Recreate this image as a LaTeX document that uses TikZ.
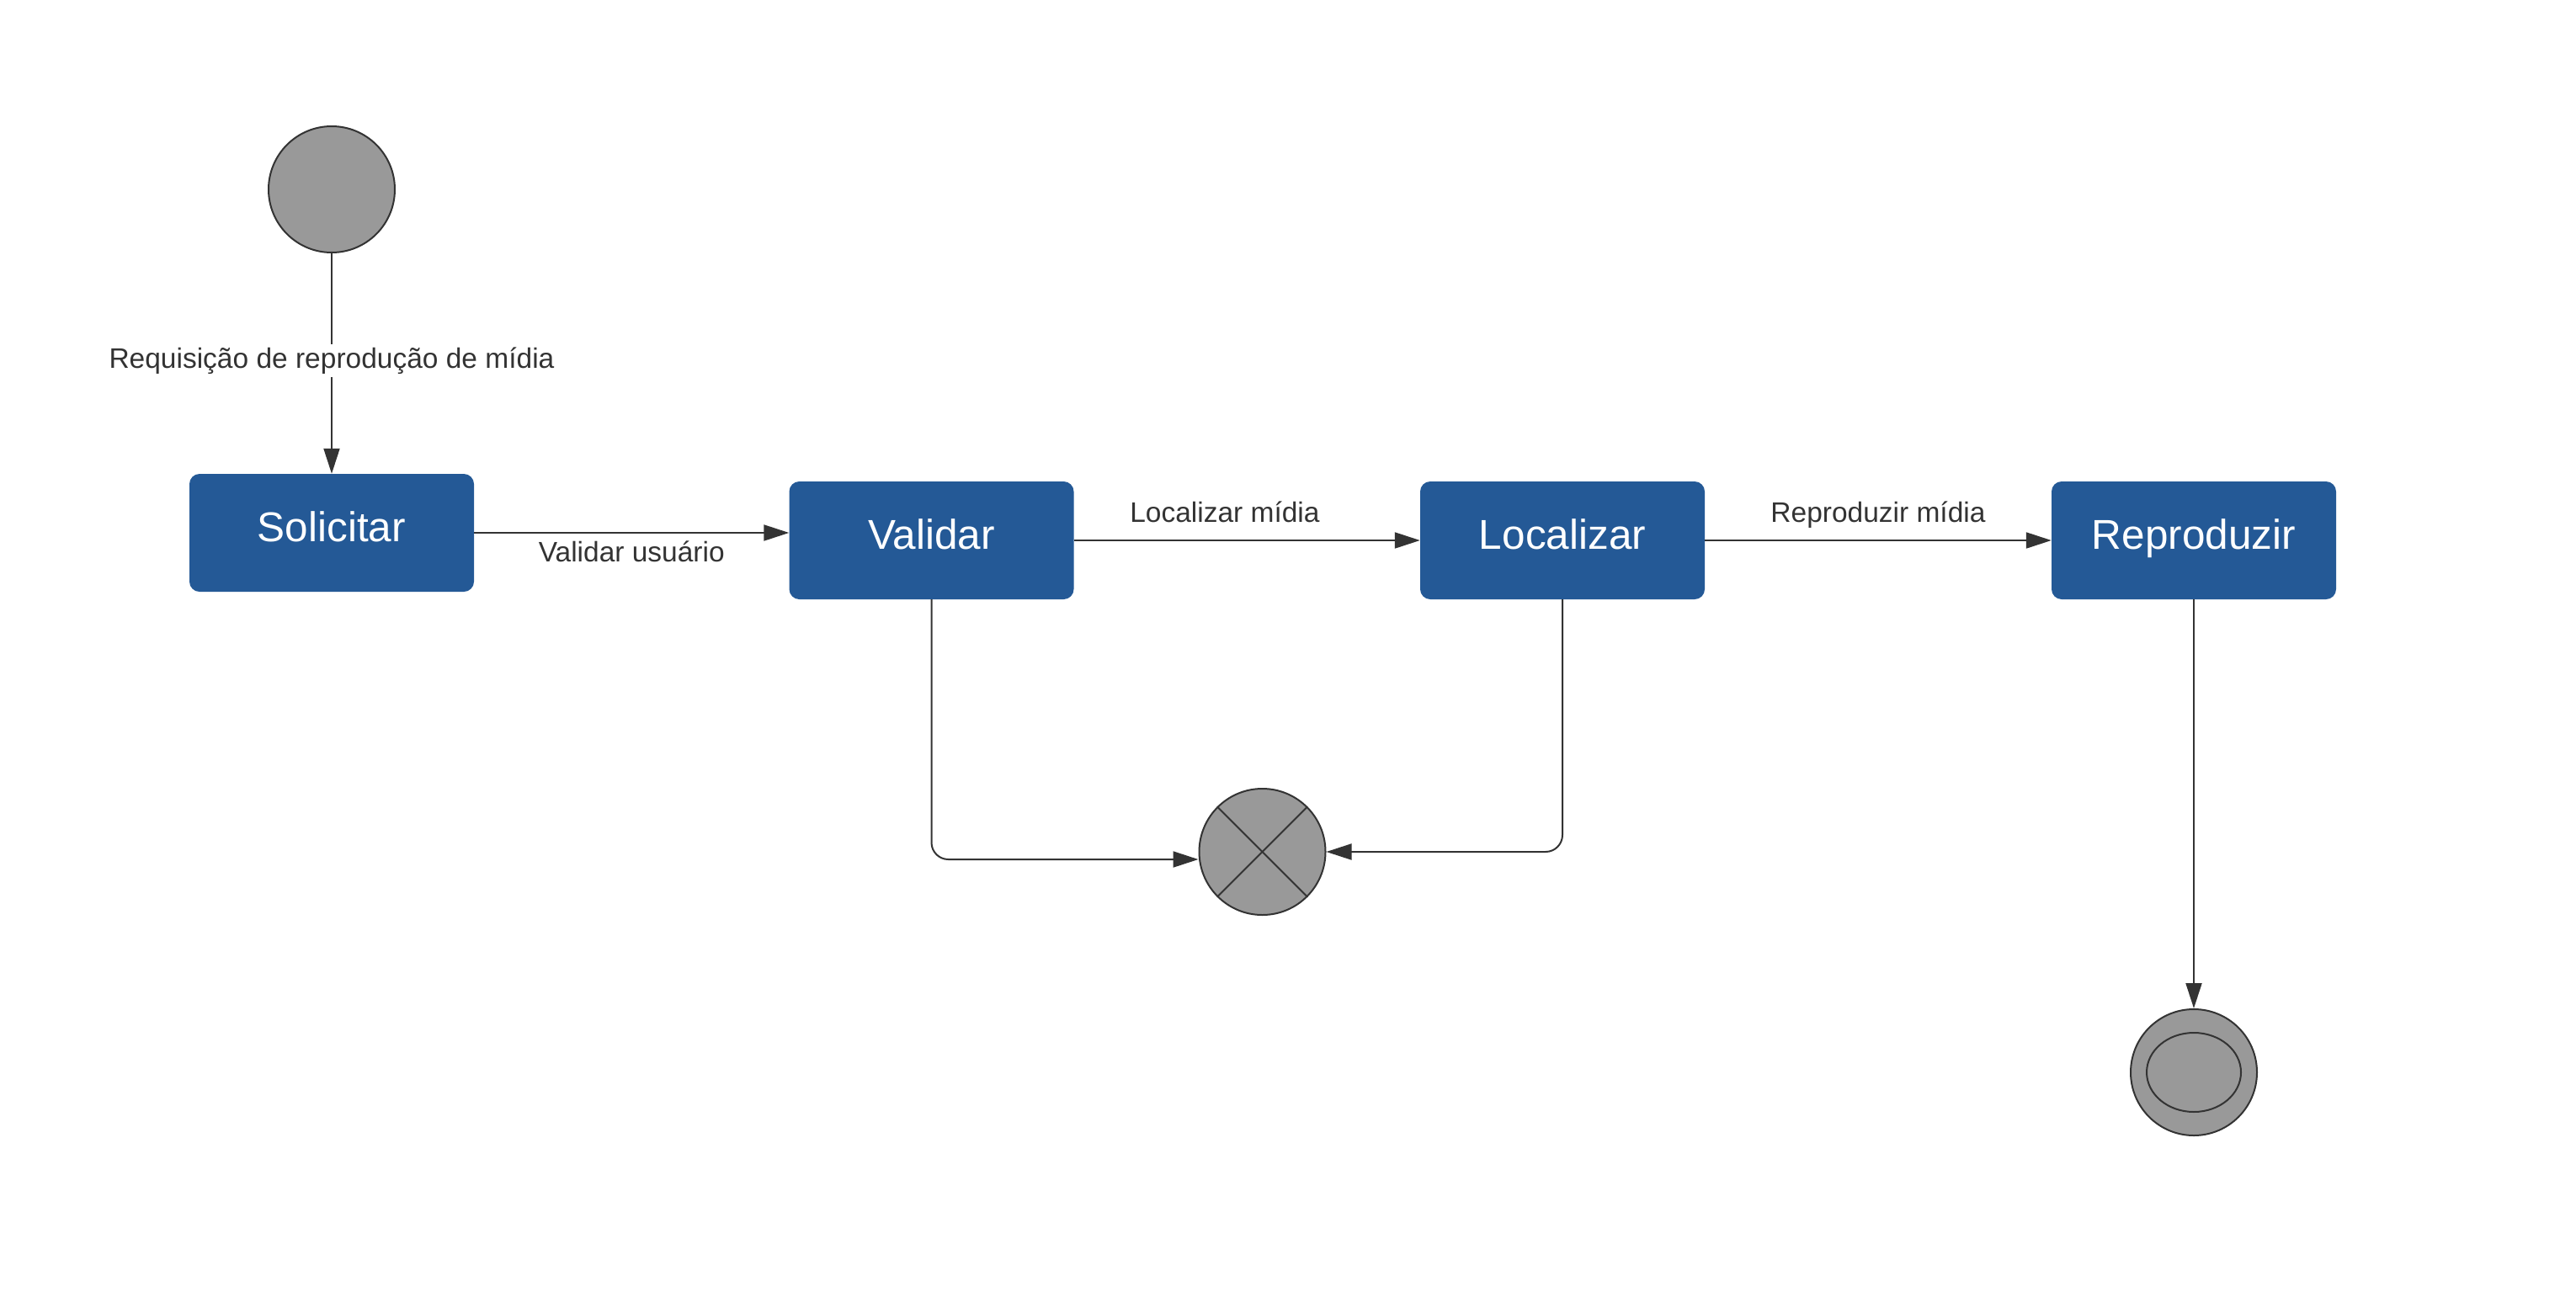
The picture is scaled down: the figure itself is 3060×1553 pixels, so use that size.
\documentclass[tikz,border=0pt]{standalone}
\usepackage{fontspec}
\setmainfont{Liberation Sans}
\usetikzlibrary{arrows.meta}
\definecolor{boxblue}{RGB}{36,89,150}
\definecolor{lgray}{HTML}{999999}
\definecolor{dgray}{HTML}{333333}
\tikzset{
  stepbox/.style={rectangle, rounded corners=12pt, fill=boxblue, draw=none,
    minimum width=338pt, minimum height=140pt, inner sep=0pt,
    text=white, font=\fontsize{49.5}{58}\selectfont, text height=30pt, text depth=10pt},
  statecirc/.style={circle, minimum size=150pt, inner sep=0pt, fill=lgray, draw=dgray, line width=2pt},
  conn/.style={draw=dgray, line width=2pt, -{Triangle[length=30pt,width=19pt]}},
  lbl/.style={text=dgray, font=\fontsize{33.5}{40}\selectfont, inner sep=0pt, text height=24pt, text depth=7pt},
}
\begin{document}
\begin{tikzpicture}[x=1pt,y=-1pt]
\useasboundingbox (0,0) rectangle (3060,1553);
\node[statecirc] (start) at (394,225) {};
\node[stepbox] (sol) at (394,633) {Solicitar};
\node[stepbox] (val) at (1106.5,642) {Validar};
\node[stepbox] (loc) at (1856,642) {Localizar};
\node[stepbox] (rep) at (2606,642) {Reproduzir};
\node[statecirc] (xn) at (1499.5,1012) {};
\draw[dgray, line width=2pt] (xn.north west) -- (xn.south east);
\draw[dgray, line width=2pt] (xn.north east) -- (xn.south west);
\node[statecirc] (fin) at (2606,1274) {};
\draw[dgray, line width=2pt] (fin.center) ellipse [x radius=56pt, y radius=47pt];

\draw[conn] (start.south) -- node[lbl, fill=white, inner sep=4pt, yshift=3pt] {Requisição de reprodução de mídia} (sol.north);
\draw[conn] (sol.east) -- node[lbl, below=9.5pt] {Validar usuário} (sol.east -| val.west);
\draw[conn] (val) -- node[lbl, pos=0.436, above=14pt] {Localizar mídia} (loc);
\draw[conn] (loc) -- node[lbl, above=14pt] {Reproduzir mídia} (rep);
\draw[conn] (rep) -- (fin);
\coordinate (xin) at ([yshift=-9pt]xn.west);
\draw[conn, rounded corners=20pt] (val.south) |- (xin);
\draw[conn, rounded corners=20pt] (loc.south) |- (xn.east);
\end{tikzpicture}
\end{document}
